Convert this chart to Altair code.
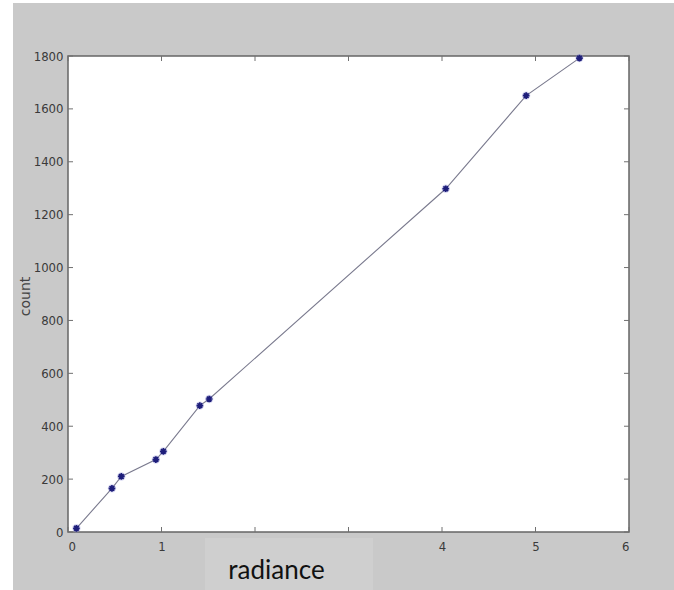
import altair as alt
import pandas as pd

# Measured radiance vs. count
radiance = [0.09, 0.47, 0.57, 0.94, 1.02, 1.41, 1.51, 4.04, 4.90, 5.47]
count = [14, 165, 210, 274, 305, 478, 503, 1298, 1650, 1792]

# Tick positions for the boxed frame
x_ticks = [0, 1, 2, 3, 4, 5, 6]
y_ticks = [0, 200, 400, 600, 800, 1000, 1200, 1400, 1600, 1800]

W, H = 561, 476
PAD = {"left": 68, "top": 56, "right": 45, "bottom": 58}

df = pd.DataFrame({"radiance": radiance, "count": count})
xt = pd.DataFrame({"radiance": x_ticks})
yt = pd.DataFrame({"count": y_ticks})

xs = alt.Scale(domain=[0, 6], nice=False, zero=False)
ys = alt.Scale(domain=[0, 1800], nice=False)

label_font = "Liberation Sans Narrow, DejaVu Sans Condensed, sans-serif"

x_axis = alt.Axis(
    values=x_ticks,
    format="d",
    labelExpr="datum.value == 2 || datum.value == 3 ? '' : datum.label",
    labelFont=label_font, labelFontSize=13, labelColor="#3a3a3a",
    labelPadding=8, ticks=False, tickSize=0, domain=False, grid=False,
    title="radiance", titleFont="Lato", titleFontSize=26, titleFontWeight="normal",
    titleColor="#111111", titleX=208, titleY=46, titleAlign="center",
    titleBaseline="alphabetic", zindex=1,
)
y_axis = alt.Axis(
    values=y_ticks,
    format="d",
    labelFont=label_font, labelFontSize=13, labelColor="#3a3a3a",
    labelPadding=5, ticks=False, tickSize=0, domain=False, grid=False,
    title="count", titleFont="DejaVu Sans", titleFontSize=14, titleFontWeight="normal",
    titleColor="#444444", titleX=-43, titleY=240, titleAngle=270,
    titleAlign="center", titleBaseline="middle", zindex=1,
)

blank = alt.Data(values=[{}])

# Figure margins: thin white strip at the top/left and a lighter label box
white_left = alt.Chart(blank).mark_rect(color="white").encode(
    x=alt.value(-PAD["left"]), x2=alt.value(-55), y=alt.value(-PAD["top"]), y2=alt.value(H + PAD["bottom"])
)
white_top = alt.Chart(blank).mark_rect(color="white").encode(
    x=alt.value(-PAD["left"]), x2=alt.value(W + PAD["right"]), y=alt.value(-PAD["top"]), y2=alt.value(-53)
)
label_box = alt.Chart(blank).mark_rect(color="#cfcfcf").encode(
    x=alt.value(137), x2=alt.value(305), y=alt.value(H + 6), y2=alt.value(H + PAD["bottom"])
)

tick_color = "#707070"
bottom_ticks = alt.Chart(xt).mark_rule(color=tick_color, strokeWidth=1).encode(
    x=alt.X("radiance:Q", scale=xs), y=alt.value(H), y2=alt.value(H - 5)
)
top_ticks = alt.Chart(xt).mark_rule(color=tick_color, strokeWidth=1).encode(
    x=alt.X("radiance:Q", scale=xs), y=alt.value(0), y2=alt.value(5)
)
left_ticks = alt.Chart(yt).mark_rule(color=tick_color, strokeWidth=1).encode(
    y=alt.Y("count:Q", scale=ys), x=alt.value(0), x2=alt.value(5)
)
right_ticks = alt.Chart(yt).mark_rule(color=tick_color, strokeWidth=1).encode(
    y=alt.Y("count:Q", scale=ys), x=alt.value(W), x2=alt.value(W - 5)
)

enc_x = alt.X("radiance:Q", scale=xs, axis=x_axis)
enc_y = alt.Y("count:Q", scale=ys, axis=y_axis)

line = alt.Chart(df).mark_line(color="#7a7a8e", strokeWidth=1.1).encode(x=enc_x, y=enc_y)

halo = alt.Chart(df).mark_point(
    shape="circle", filled=True, size=70, color="#8f8fd6", opacity=0.35
).encode(x="radiance:Q", y="count:Q")

ASTERISK = "M-1,0L1,0M0,-1L0,1M-0.7,-0.7L0.7,0.7M-0.7,0.7L0.7,-0.7"
stars = alt.Chart(df).mark_point(
    shape=ASTERISK, size=45, filled=False, stroke="#1e1e7a", strokeWidth=1.7, opacity=1
).encode(x="radiance:Q", y="count:Q")

chart = alt.layer(
    white_left, white_top, label_box,
    line, bottom_ticks, top_ticks, left_ticks, right_ticks, halo, stars,
).properties(
    width=W, height=H,
    padding=PAD,
    autosize=alt.AutoSizeParams(type="none"),
    background="#c9c9c9",
).configure_view(
    fill="white", stroke="#666666", strokeWidth=1.5,
)

chart.save("out.html", embed_options={"renderer": "svg", "actions": False})
